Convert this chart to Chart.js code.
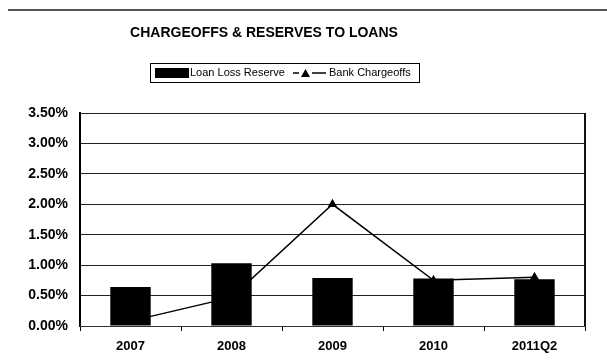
<!DOCTYPE html>
<html>
<head>
<meta charset="utf-8">
<script src="https://cdn.jsdelivr.net/npm/chart.js@4"></script>
<style>
  html, body { margin: 0; padding: 0; background: #fff; }
  #wrap { position: relative; width: 607px; height: 362px; }
</style>
</head>
<body>
<div id="wrap"><canvas id="myChart" width="607" height="362"></canvas></div>
<script>
var categories = ['2007', '2008', '2009', '2010', '2011Q2'];
var loanLossReserve = [0.64, 1.03, 0.79, 0.78, 0.77];
var bankChargeoffs = [0.08, 0.47, 2.00, 0.75, 0.80];
var yTicks = [0, 0.5, 1.0, 1.5, 2.0, 2.5, 3.0, 3.5];

var FONT = '"Liberation Sans", Arial, sans-serif';

// title, legend box, frame lines
var decor = {
    id: 'decor',
    afterDraw: function(chart) {
        var ctx = chart.ctx;
        var a = chart.chartArea;
        ctx.save();

        // top rule
        ctx.strokeStyle = '#555';
        ctx.lineWidth = 2;
        ctx.beginPath();
        ctx.moveTo(8, 10);
        ctx.lineTo(607, 10);
        ctx.stroke();

        // right border of plot
        ctx.strokeStyle = '#111';
        ctx.lineWidth = 2;
        ctx.beginPath();
        ctx.moveTo(a.right, a.top);
        ctx.lineTo(a.right, a.bottom);
        ctx.stroke();

        // title
        ctx.fillStyle = '#000';
        ctx.font = 'bold 14px ' + FONT;
        ctx.textAlign = 'center';
        ctx.textBaseline = 'middle';
        ctx.fillText('CHARGEOFFS & RESERVES TO LOANS', 264, 33);

        // legend
        ctx.lineWidth = 1;
        ctx.strokeStyle = '#000';
        ctx.strokeRect(150.5, 63.5, 269, 19);
        ctx.fillRect(155, 68, 34, 10);
        ctx.font = '11px ' + FONT;
        ctx.textAlign = 'left';
        ctx.fillText('Loan Loss Reserve', 190, 73);

        ctx.lineWidth = 1.5;
        ctx.beginPath();
        ctx.moveTo(293, 73);
        ctx.lineTo(299, 73);
        ctx.moveTo(312, 73);
        ctx.lineTo(326, 73);
        ctx.stroke();
        ctx.beginPath();
        ctx.moveTo(301, 77);
        ctx.lineTo(310, 77);
        ctx.lineTo(305.5, 69);
        ctx.closePath();
        ctx.fill();
        ctx.fillText('Bank Chargeoffs', 329, 73);

        ctx.restore();
    }
};

var ctx = document.getElementById('myChart').getContext('2d');
new Chart(ctx, {
    type: 'bar',
    data: {
        labels: categories,
        datasets: [{
            type: 'line',
            label: 'Bank Chargeoffs',
            data: bankChargeoffs,
            borderColor: '#000',
            backgroundColor: '#000',
            borderWidth: 1.5,
            pointStyle: 'triangle',
            pointRadius: 4,
            pointBackgroundColor: '#000',
            pointBorderColor: '#000',
            tension: 0,
            order: 0
        }, {
            type: 'bar',
            label: 'Loan Loss Reserve',
            data: loanLossReserve,
            backgroundColor: '#000',
            borderWidth: 0,
            categoryPercentage: 0.8,
            barPercentage: 0.5,
            order: 1
        }]
    },
    options: {
        responsive: false,
        animation: false,
        layout: { padding: { top: 113, right: 22, bottom: 0, left: 0 } },
        plugins: {
            legend: { display: false },
            title: { display: false },
            tooltip: { enabled: false }
        },
        scales: {
            y: {
                min: 0,
                max: 3.5,
                afterBuildTicks: function(scale) {
                    scale.ticks = yTicks.map(function(v) { return { value: v }; });
                },
                afterFit: function(scale) { scale.width = 80; },
                ticks: {
                    color: '#000',
                    font: { family: FONT, size: 14, weight: 'bold' },
                    padding: 12,
                    callback: function(v) { return v.toFixed(2) + '%'; }
                },
                grid: { color: '#222', lineWidth: 1, drawTicks: false },
                border: { display: true, color: '#000', width: 2 }
            },
            x: {
                afterFit: function(scale) { scale.height = 36; },
                ticks: {
                    color: '#000',
                    font: { family: FONT, size: 13, weight: 'bold' },
                    padding: 8
                },
                grid: { drawOnChartArea: false, drawTicks: true, tickLength: 5, color: '#000', offset: true },
                border: { display: true, color: '#333', width: 1 }
            }
        }
    },
    plugins: [decor]
});
</script>
</body>
</html>
